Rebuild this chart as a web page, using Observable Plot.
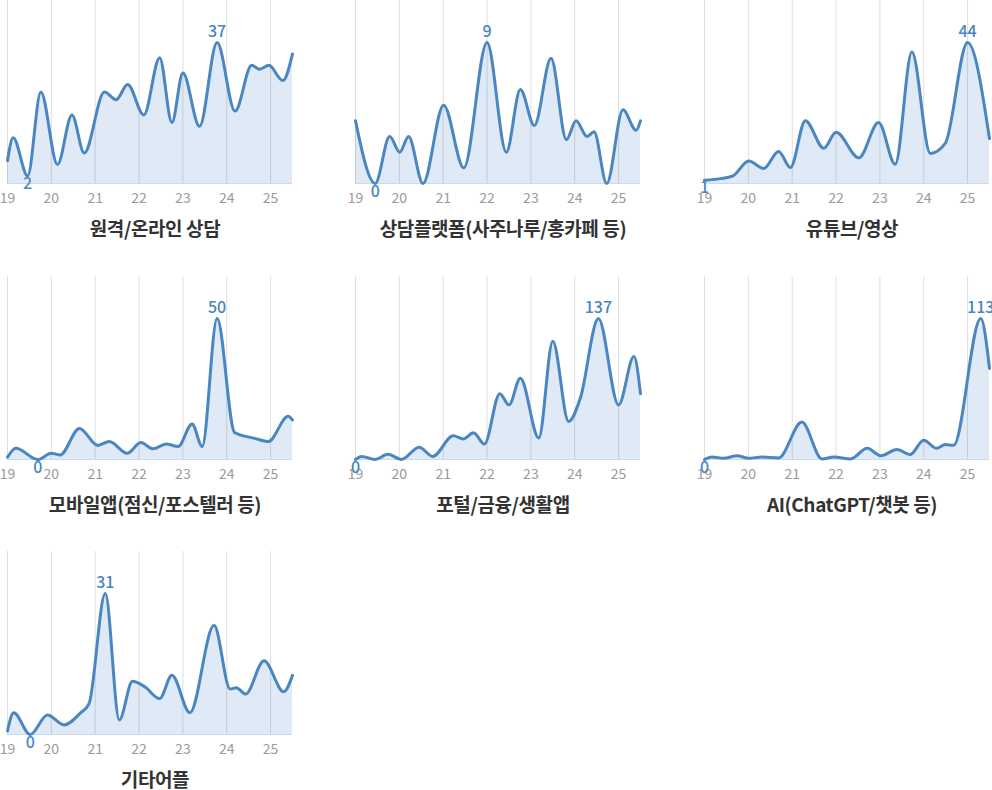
<!DOCTYPE html>
<html><head><meta charset="utf-8">
<script src="https://cdn.jsdelivr.net/npm/d3@7"></script>
<script src="https://cdn.jsdelivr.net/npm/@observablehq/plot@0.6"></script>
<style>
body{margin:0;background:#fff;font-family:'Noto Sans CJK KR','Noto Sans',sans-serif;}
#root{position:relative;width:992px;height:790px;overflow:hidden}
.cell{position:absolute;width:310px;height:239px}
.cell svg{overflow:visible}
.title{position:absolute;left:0;width:310px;text-align:center;font-size:19px;font-weight:700;color:#333;line-height:21px;top:217px;white-space:nowrap;letter-spacing:-0.4px}
</style></head><body><div id="root"></div>
<script>
const titles = ["원격/온라인 상담", "상담플랫폼(사주나루/홍카페 등)", "유튜브/영상", "모바일앱(점신/포스텔러 등)", "포털/금융/생활앱", "AI(ChatGPT/챗봇 등)", "기타어플"];
const tickYears = [19, 20, 21, 22, 23, 24, 25];
const tickLabels = ["19", "20", "21", "22", "23", "24", "25"];

const x1 = [19.0,19.13,19.46,19.76,20.14,20.47,20.75,21.21,21.48,21.74,22.11,22.47,22.75,23.0,23.38,23.78,24.19,24.57,24.75,24.96,25.28,25.5];
const v1 = [6,12,2,24,5,18,8,24,22,26,18,33,16,29,15,37,19,31,30,31,27,34];
const x2 = [19.0,19.45,19.78,20.01,20.21,20.54,21.01,21.47,22.0,22.44,22.76,23.08,23.46,23.81,24.03,24.28,24.44,24.73,25.1,25.4,25.5];
const v2 = [4,0,3,2,3,0,5,1,9,2,6,3.7,8,2.8,4,3,3.3,0,4.7,3.4,4];
const x3 = [19.0,19.4,19.65,20.01,20.35,20.69,20.96,21.3,21.72,22.0,22.52,22.97,23.35,23.73,24.15,24.49,25.0,25.5];
const v3 = [1,1.6,2.4,7,4.7,10,5,19.6,11,16,8,19,6,41,9.4,12.5,44,14];
const x4 = [19.0,19.19,19.69,20.0,20.2,20.64,21.06,21.32,21.73,22.04,22.32,22.62,22.89,23.21,23.44,23.78,24.18,24.64,24.95,25.4,25.5];
const v4 = [0.8,4,0,2.2,1.6,11,5,6.4,2.2,6,3.8,5.5,4.6,12.6,4.6,50,9.6,7.5,6.4,15.3,14];
const x5 = [19.0,19.14,19.44,19.74,20.05,20.45,20.76,21.23,21.46,21.69,21.94,22.29,22.5,22.76,23.18,23.5,23.86,24.13,24.54,25.0,25.35,25.5];
const v5 = [0,3,0,5,0,12,3,23,20,26,15,64,53,79,21,115,37,60,137,53,100,64];
const x6 = [19.0,19.17,19.44,19.74,20.01,20.31,20.69,21.22,21.68,21.95,22.33,22.71,23.02,23.39,23.69,24.0,24.29,24.49,24.68,25.3,25.5];
const v6 = [0,2,1,3,1,2,1.3,30,0.5,2,0.5,9,3,8,4,15.5,9,12,11.4,113,73];
const x7 = [19.0,19.14,19.52,19.91,20.29,20.67,20.86,21.23,21.55,21.85,22.13,22.47,22.75,23.16,23.71,24.08,24.22,24.43,24.85,25.3,25.5];
const v7 = [0.8,4.8,0,4.3,2.1,4.8,6.8,31,3.2,11.7,10.5,7.9,13,4.8,24,10,10.3,8.9,16.2,9.4,13];

const series = [[x1,v1],[x2,v2],[x3,v3],[x4,v4],[x5,v5],[x6,v6],[x7,v7]];
const colLeft = [0, 348, 697];
const rowTop = [0, 276, 551];

const LINE = "#4a86c0";
const AREA = "#dfeaf6";

function panel(xs, vs) {
  const data = xs.map((x, i) => ({x, v: vs[i]}));
  const max = d3.max(vs);
  return Plot.plot({
    width: 310, height: 213,
    marginTop: 0, marginBottom: 30, marginLeft: 7, marginRight: 18,
    x: {domain: [19, 25.5], ticks: tickYears, tickFormat: d => tickLabels[tickYears.indexOf(d)], tickSize: 0, tickPadding: 10, label: null},
    y: {domain: [0, max * 183 / 141], axis: null},
    style: {fontFamily: "'Noto Sans CJK KR','Noto Sans',sans-serif", fontSize: "14px", color: "#9a9a9a", background: "transparent", overflow: "visible"},
    marks: [
      Plot.areaY(data, {x: "x", y: "v", curve: "monotone-x", fill: AREA}),
      Plot.ruleX(tickYears, {stroke: "#000", strokeOpacity: 0.13}),
      Plot.ruleY([0], {stroke: "#c9dbee"}),
      Plot.lineY(data, {x: "x", y: "v", curve: "monotone-x", stroke: LINE, strokeWidth: 3}),
      Plot.text(data, Plot.selectMaxY({x: "x", y: "v", text: "v", dy: -11, fill: LINE, fontSize: 16, fontWeight: 500})),
      Plot.text(data, Plot.selectMinY({x: "x", y: "v", text: "v", dy: 8, fill: LINE, fontSize: 16, fontWeight: 500}))
    ]
  });
}

const root = document.getElementById("root");
series.forEach(([xs, vs], i) => {
  const cell = document.createElement("div");
  cell.className = "cell";
  cell.style.left = colLeft[i % 3] + "px";
  cell.style.top = rowTop[Math.floor(i / 3)] + "px";
  cell.appendChild(panel(xs, vs));
  const t = document.createElement("div");
  t.className = "title";
  t.textContent = titles[i];
  cell.appendChild(t);
  root.appendChild(cell);
});
</script>
</body></html>
